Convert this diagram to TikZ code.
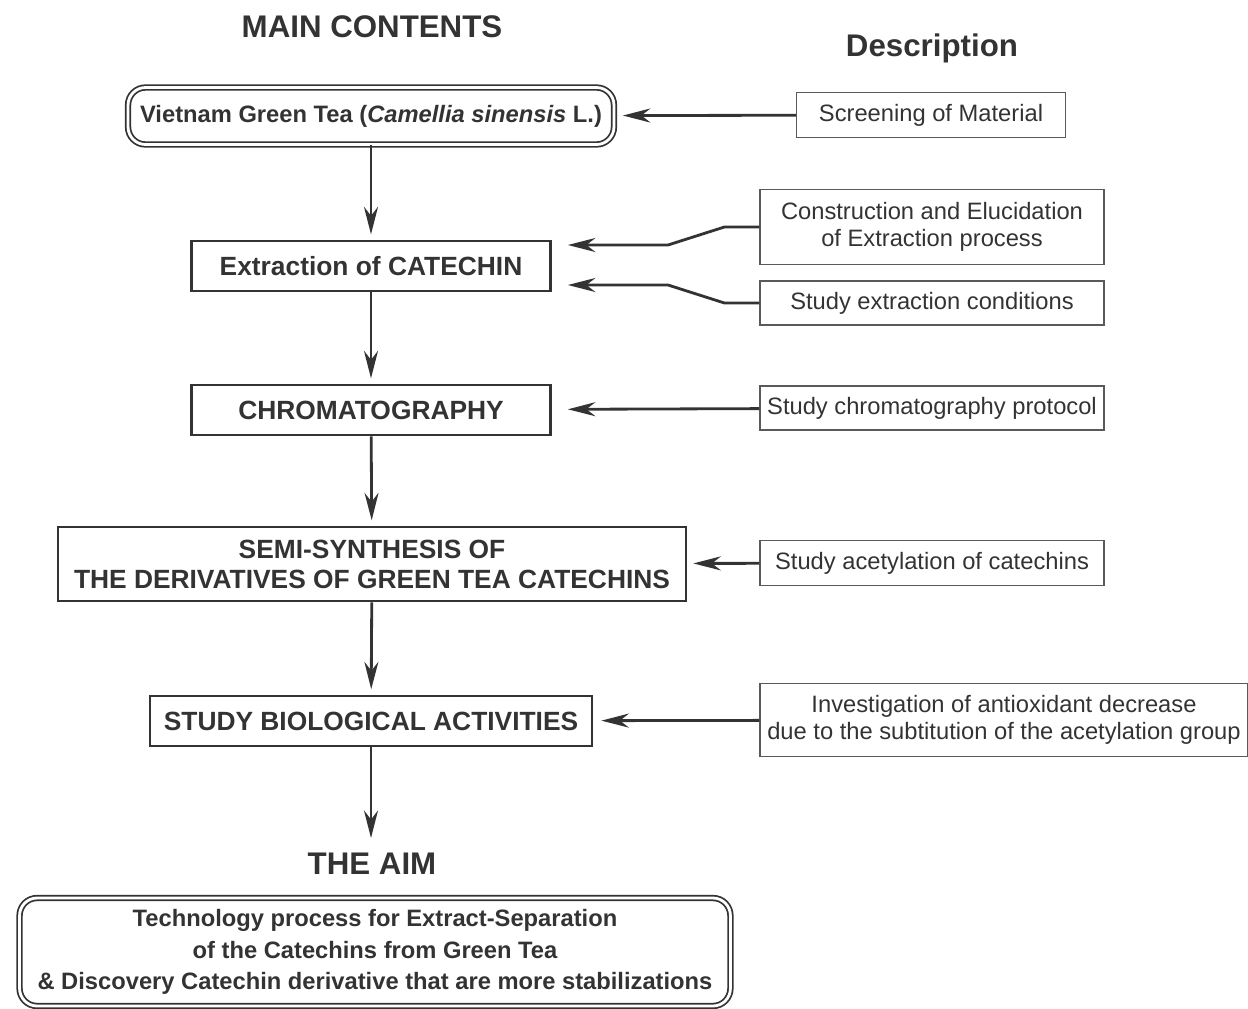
\documentclass[tikz,border=0pt]{standalone}
\usepackage{fontspec}
\setmainfont{Liberation Sans}
\usetikzlibrary{positioning,arrows.meta}
\definecolor{ink}{HTML}{333333}
\definecolor{edge}{HTML}{5a5a5a}

\begin{document}
\begin{tikzpicture}[x=0.02cm, y=-0.02cm, >={Stealth[length=0.55cm, width=0.28cm]},
        main/.style={draw=ink, line width=1.6pt, align=center, inner sep=0pt, text=ink, font=\bfseries\fontsize{15}{17}\selectfont},
        desc/.style={draw=edge, line width=0.7pt, align=center, inner sep=0pt, text=ink, font=\fontsize{13.5}{15.5}\selectfont, minimum width=6.88cm},
        dbl/.style={draw=ink, double=white, double distance=1.6pt, line width=1pt, rounded corners=0.35cm, align=center, inner sep=0pt, text=ink, font=\bfseries\fontsize{13.5}{18}\selectfont},
        head/.style={text=ink, font=\bfseries\fontsize{17.8}{20}\selectfont},
        arr/.style={->, draw=ink, line width=1.6pt}]
        \useasboundingbox (0,0) rectangle (1248,1008);

        \node[head] (T1) at (372,27) {MAIN CONTENTS};
        \node[head] (T2) at (932,48) {Description};

        \node[dbl, minimum width=9.72cm, minimum height=1.14cm] (V) at (371,116) {Vietnam Green Tea (\textit{Camellia sinensis} L.)};
        \node[main, minimum width=7.18cm, minimum height=1cm] (X) at (371,266) {Extraction of CATECHIN};
        \node[main, minimum width=7.18cm, minimum height=1cm] (C) at (371,410) {CHROMATOGRAPHY};
        \node[main, minimum width=12.56cm, minimum height=1.48cm] (S) at (372,564) {SEMI-SYNTHESIS OF\\THE DERIVATIVES OF GREEN TEA CATECHINS};
        \node[main, minimum width=8.84cm, minimum height=1cm] (B) at (371,721) {STUDY BIOLOGICAL ACTIVITIES};
        \node[head] (T3) at (372,864) {THE AIM};
        \node[dbl, minimum width=14.22cm, minimum height=2.16cm] (A) at (375,952) {Technology process for Extract-Separation\\of the Catechins from Green Tea\\\& Discovery Catechin derivative that are more stabilizations};

        \node[desc, minimum width=5.38cm, minimum height=0.9cm] (D1) at (931,115) {Screening of Material};
        \node[desc, minimum height=1.5cm] (D2) at (932,227) {Construction and Elucidation\\of Extraction process};
        \node[desc, minimum height=0.88cm] (D3) at (932,303) {Study extraction conditions};
        \node[desc, minimum height=0.88cm] (D4) at (932,408) {Study chromatography protocol};
        \node[desc, minimum height=0.9cm] (D5) at (932,563) {Study acetylation of catechins};
        \node[desc, minimum width=9.76cm, minimum height=1.46cm] (D6) at (1004,720) {Investigation of antioxidant decrease\\due to the subtitution of the acetylation group};
        \coordinate (K1) at (668,245);
        \coordinate (K2) at (668,285);
        \coordinate (E) at (371,838);

        % main flow
        \draw[arr, shorten >=3pt] (V) -- (X);
        \draw[arr, shorten >=3pt] (X) -- (C);
        \draw[arr, shorten >=3pt] (C) -- (S);
        \draw[arr, shorten >=3pt] (S) -- (B);
        \draw[arr] (B) -- (E);

        % descriptions
        \draw[arr, shorten >=0.16cm] (D1) -- (V);
        \draw[arr, shorten >=0.32cm] (D2.west) -- ++(-35,0) -- (K1) -- (K1 -| X.east);
        \draw[arr, shorten >=0.32cm] (D3.west) -- ++(-35,0) -- (K2) -- (K2 -| X.east);
        \draw[arr, shorten >=0.32cm] (D4) -- (C);
        \draw[arr, shorten >=0.12cm] (D5) -- (S);
        \draw[arr, shorten >=0.16cm] (D6) -- (B);
    \end{tikzpicture}
\end{document}
